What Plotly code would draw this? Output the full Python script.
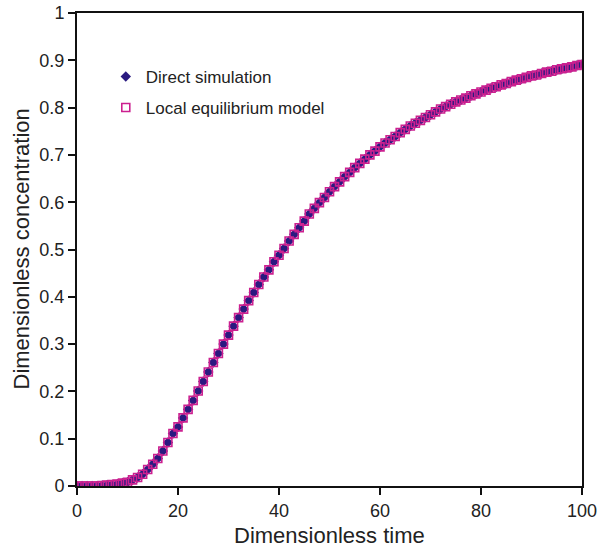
import plotly.graph_objects as go

# Dimensionless time (x) values
time = list(range(0, 101))

# Direct simulation
direct_sim = [
    0.000, 0.000, 0.000, 0.000, 0.000, 0.001, 0.002, 0.003, 0.004, 0.006,
    0.008, 0.013, 0.018, 0.025, 0.035, 0.046, 0.058, 0.074, 0.092, 0.111,
    0.125, 0.144, 0.162, 0.181, 0.201, 0.221, 0.241, 0.261, 0.280, 0.300,
    0.319, 0.338, 0.356, 0.374, 0.392, 0.409, 0.426, 0.442, 0.457, 0.474,
    0.488, 0.502, 0.518, 0.532, 0.546, 0.560, 0.575, 0.587, 0.599, 0.610,
    0.622, 0.633, 0.643, 0.654, 0.663, 0.673, 0.682, 0.691, 0.700, 0.708,
    0.717, 0.725, 0.732, 0.739, 0.747, 0.754, 0.761, 0.767, 0.773, 0.779,
    0.785, 0.791, 0.797, 0.802, 0.807, 0.812, 0.816, 0.820, 0.825, 0.829,
    0.833, 0.837, 0.841, 0.844, 0.848, 0.851, 0.855, 0.858, 0.861, 0.864,
    0.867, 0.869, 0.872, 0.875, 0.877, 0.880, 0.882, 0.884, 0.886, 0.889,
    0.891,
]

# Local equilibrium model (overlaps the direct simulation in the picture)
local_eq = [
    0.000, 0.000, 0.000, 0.000, 0.000, 0.001, 0.002, 0.003, 0.004, 0.006,
    0.008, 0.013, 0.018, 0.025, 0.035, 0.046, 0.058, 0.074, 0.092, 0.111,
    0.125, 0.144, 0.162, 0.181, 0.201, 0.221, 0.241, 0.261, 0.280, 0.300,
    0.319, 0.338, 0.356, 0.374, 0.392, 0.409, 0.426, 0.442, 0.457, 0.474,
    0.488, 0.502, 0.518, 0.532, 0.546, 0.560, 0.575, 0.587, 0.599, 0.610,
    0.622, 0.633, 0.643, 0.654, 0.663, 0.673, 0.682, 0.691, 0.700, 0.708,
    0.717, 0.725, 0.732, 0.739, 0.747, 0.754, 0.761, 0.767, 0.773, 0.779,
    0.785, 0.791, 0.797, 0.802, 0.807, 0.812, 0.816, 0.820, 0.825, 0.829,
    0.833, 0.837, 0.841, 0.844, 0.848, 0.851, 0.855, 0.858, 0.861, 0.864,
    0.867, 0.869, 0.872, 0.875, 0.877, 0.880, 0.882, 0.884, 0.886, 0.889,
    0.891,
]

x_ticks = [0, 20, 40, 60, 80, 100]
y_ticks = [0, 0.1, 0.2, 0.3, 0.4, 0.5, 0.6, 0.7, 0.8, 0.9, 1]
y_tick_labels = ["0", "0.1", "0.2", "0.3", "0.4", "0.5", "0.6", "0.7", "0.8", "0.9", "1"]
x_title = "Dimensionless time"
y_title = "Dimensionless concentration"

FONT = "Liberation Sans, Arial, sans-serif"
NAVY = "#2a1a80"
MAGENTA = "#cc2090"
TXT = "#222"

fig = go.Figure()
fig.add_trace(go.Scatter(
    x=time, y=direct_sim, mode="markers", name="Direct simulation",
    legendgroup="a",
    marker=dict(symbol="diamond", size=8, color=NAVY, line=dict(width=0)),
))
fig.add_trace(go.Scatter(
    x=time, y=local_eq, mode="markers", name="Local equilibrium model",
    legendgroup="b",
    marker=dict(symbol="square-open", size=8, color=MAGENTA, line=dict(width=1.6, color=MAGENTA)),
))

axis_common = dict(
    showgrid=False, zeroline=False, showline=True, linecolor="#111", linewidth=2,
    mirror=True, ticks="outside", ticklen=7, tickwidth=2, tickcolor="#111",
    tickfont=dict(family=FONT, size=18, color=TXT), automargin=False,
    ticklabeloverflow="allow",
)

fig.update_layout(
    width=600, height=547,
    margin=dict(l=77, r=18, t=13, b=61),
    paper_bgcolor="white", plot_bgcolor="white",
    font=dict(family=FONT, color=TXT),
    xaxis=dict(range=[0, 100], tickvals=x_ticks, ticktext=[str(v) for v in x_ticks], **axis_common),
    yaxis=dict(range=[0, 1], tickvals=y_ticks, ticktext=y_tick_labels, **axis_common),
    legend=dict(x=0.057, y=0.903, xanchor="left", yanchor="top",
                font=dict(family=FONT, size=17, color=TXT),
                bgcolor="rgba(0,0,0,0)", tracegroupgap=6, traceorder="grouped"),
    showlegend=True,
    annotations=[
        dict(text=x_title, xref="paper", yref="paper", x=0.5, y=0, xanchor="center",
             yanchor="middle", yshift=-49, showarrow=False,
             font=dict(family=FONT, size=22, color=TXT)),
        dict(text=y_title, xref="paper", yref="paper", x=0, y=0.5, xanchor="center",
             yanchor="middle", xshift=-56, textangle=-90, showarrow=False,
             font=dict(family=FONT, size=22, color=TXT)),
    ],
)

fig.write_html(
    "out.html",
    config={"displayModeBar": False},
    post_script="document.body.style.margin='0';document.body.style.overflow='hidden';",
)
